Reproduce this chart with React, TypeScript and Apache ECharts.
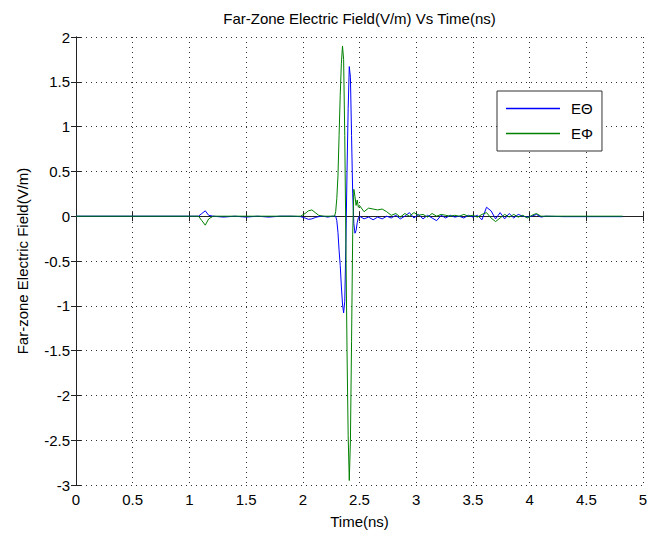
import React, { useEffect, useRef } from "react";
import * as echarts from "echarts";

// Time samples (ns), split into segments
const preTime = [0, 1.0, 1.08, 1.11, 1.14, 1.17, 1.21, 1.3, 1.4, 1.5, 1.6, 1.7, 1.8, 1.9, 1.98, 2.02, 2.05, 2.08, 2.11, 2.14, 2.18, 2.22, 2.26];
const preTheta = [0, 0, 0, 0.03, 0.06, 0.01, 0, -0.01, 0, -0.01, 0, -0.01, 0, 0, -0.005, -0.02, -0.035, -0.03, -0.015, -0.005, 0, -0.01, 0];
const prePhi = [0, 0, 0, -0.05, -0.1, -0.03, 0, 0, 0, 0, 0, 0, 0, 0, 0, 0.03, 0.06, 0.07, 0.04, 0.01, 0, 0, 0];

const pulseTime = [2.28, 2.29, 2.3, 2.31, 2.32, 2.33, 2.34, 2.35, 2.36, 2.37, 2.38, 2.39, 2.4, 2.41, 2.42, 2.43, 2.44, 2.45, 2.46, 2.47, 2.48, 2.49, 2.5];
const pulseTheta = [0, 0, -0.05, -0.18, -0.38, -0.55, -0.78, -0.98, -1.08, -0.95, -0.3, 0.5, 1.2, 1.67, 1.55, 0.9, 0.25, -0.08, -0.19, -0.16, -0.07, -0.02, 0];
const pulsePhi = [0, 0.05, 0.2, 0.45, 0.9, 1.35, 1.7, 1.9, 1.75, 0.9, -0.3, -1.5, -2.45, -2.95, -2.5, -1.4, -0.2, 0.3, 0.22, 0.12, 0.18, 0.1, 0.12];

const ringTime = [2.54, 2.58, 2.62, 2.66, 2.7, 2.74, 2.78, 2.82, 2.86, 2.9, 2.94, 2.98, 3.02, 3.06, 3.1, 3.14, 3.18, 3.22, 3.26, 3.3, 3.34, 3.38, 3.42, 3.46, 3.5, 3.54, 3.58, 3.62, 3.66, 3.7, 3.74, 3.78, 3.82, 3.86, 3.9, 3.94, 3.98, 4.02, 4.06, 4.1, 4.14, 4.3, 4.5, 4.65, 4.82];
const ringTheta = [-0.03, -0.01, -0.04, -0.01, -0.03, 0, -0.02, 0.01, -0.03, 0, 0.04, -0.02, 0.02, -0.03, 0.01, -0.02, -0.05, 0.01, -0.02, 0.01, -0.01, 0, -0.02, 0.01, -0.01, 0.01, -0.04, 0.1, 0.06, -0.03, 0.04, -0.03, 0.03, -0.02, 0.02, 0, -0.01, 0, 0.02, -0.01, 0, -0.005, -0.005, -0.005, -0.005];
const ringPhi = [0.05, 0.09, 0.08, 0.07, 0.08, 0.05, 0.01, 0.03, -0.01, 0.03, 0, 0.04, 0.01, 0.02, -0.01, 0.03, 0, 0.02, 0.01, 0, 0.01, 0, 0.02, 0, 0.01, -0.01, 0.02, 0.04, -0.02, -0.06, -0.02, 0.02, -0.01, 0.02, -0.01, 0.01, -0.02, 0.01, 0.03, 0, 0, 0, 0, 0, 0];

const timeNs = [...preTime, ...pulseTime, ...ringTime];
const eTheta = [...preTheta, ...pulseTheta, ...ringTheta];
const ePhi = [...prePhi, ...pulsePhi, ...ringPhi];

const seriesNames = ["EΘ", "EΦ"];
const titleText = "Far-Zone Electric Field(V/m) Vs Time(ns)";
const xName = "Time(ns)";
const yName = "Far-zone Electric Field(V/m)";

const FONT = "Liberation Sans, Arial, Helvetica, sans-serif";
const FS = 15;

export default function App() {
  const ref = useRef<HTMLDivElement>(null);
  useEffect(() => {
    if (!ref.current) return;
    const chart = echarts.init(ref.current, undefined, { renderer: "svg" });
    const gridL = 76, gridT = 37, gridW = 567, gridH = 448;
    const axisCommon = {
      axisLine: { show: true, lineStyle: { color: "#222", width: 1 } },
      axisTick: { show: true, inside: true, length: 5, lineStyle: { color: "#222" } },
    };
    chart.setOption({
      animation: false,
      backgroundColor: "#fff",
      textStyle: { fontFamily: FONT },
      grid: { left: gridL, top: gridT, width: gridW, height: gridH, containLabel: false },
      graphic: [
        {
          type: "text",
          x: gridL + gridW / 2,
          y: 18,
          style: {
            text: titleText,
            fill: "#000",
            font: `${FS}px ${FONT}`,
            textAlign: "center",
            textVerticalAlign: "middle",
          },
        },
      ],
      legend: {
        data: seriesNames.map((n) => ({ name: n, icon: "rect" })),
        orient: "vertical",
        left: 497,
        top: 91,
        padding: [10, 9, 10, 9],
        itemWidth: 54,
        itemHeight: 1.5,
        itemGap: 10,
        borderColor: "#333",
        borderWidth: 1,
        backgroundColor: "#fff",
        textStyle: { fontSize: FS, color: "#000", fontFamily: FONT, padding: [0, 0, 0, 6] },
      },
      xAxis: [
        {
          type: "value",
          min: 0,
          max: 5,
          interval: 0.5,
          position: "bottom",
          name: xName,
          nameLocation: "middle",
          nameGap: 29,
          nameTextStyle: { fontSize: FS, color: "#000", fontFamily: FONT },
          ...axisCommon,
          axisLabel: { margin: 7, fontSize: FS, color: "#000", fontFamily: FONT },
          splitLine: { show: true, lineStyle: { color: "#333", type: [1, 4], width: 1 } },
        },
        {
          type: "value",
          min: 0,
          max: 5,
          interval: 0.5,
          position: "top",
          ...axisCommon,
          axisLabel: { show: false },
          splitLine: { show: false },
        },
      ],
      yAxis: [
        {
          type: "value",
          min: -3,
          max: 2,
          interval: 0.5,
          position: "left",
          name: yName,
          nameLocation: "middle",
          nameGap: 46,
          nameTextStyle: { fontSize: FS, color: "#000", fontFamily: FONT },
          ...axisCommon,
          axisLabel: { margin: 6, fontSize: FS, color: "#000", fontFamily: FONT },
          splitLine: { show: true, lineStyle: { color: "#333", type: [1, 4], width: 1 } },
        },
        {
          type: "value",
          min: -3,
          max: 2,
          interval: 0.5,
          position: "right",
          ...axisCommon,
          axisLabel: { show: false },
          splitLine: { show: false },
        },
      ],
      series: [
        {
          name: seriesNames[0],
          type: "line",
          xAxisIndex: 0,
          yAxisIndex: 0,
          symbol: "none",
          lineStyle: { color: "#0000ff", width: 1 },
          itemStyle: { color: "#0000ff" },
          data: timeNs.map((t, i) => [t, eTheta[i]]),
        },
        {
          name: seriesNames[1],
          type: "line",
          xAxisIndex: 0,
          yAxisIndex: 0,
          symbol: "none",
          lineStyle: { color: "#008000", width: 1 },
          itemStyle: { color: "#008000" },
          data: timeNs.map((t, i) => [t, ePhi[i]]),
        },
      ],
    });
    return () => chart.dispose();
  }, []);
  return (
    <div
      ref={ref}
      style={{ position: "absolute", left: 0, top: 0, width: 659, height: 534, background: "#fff" }}
    />
  );
}
